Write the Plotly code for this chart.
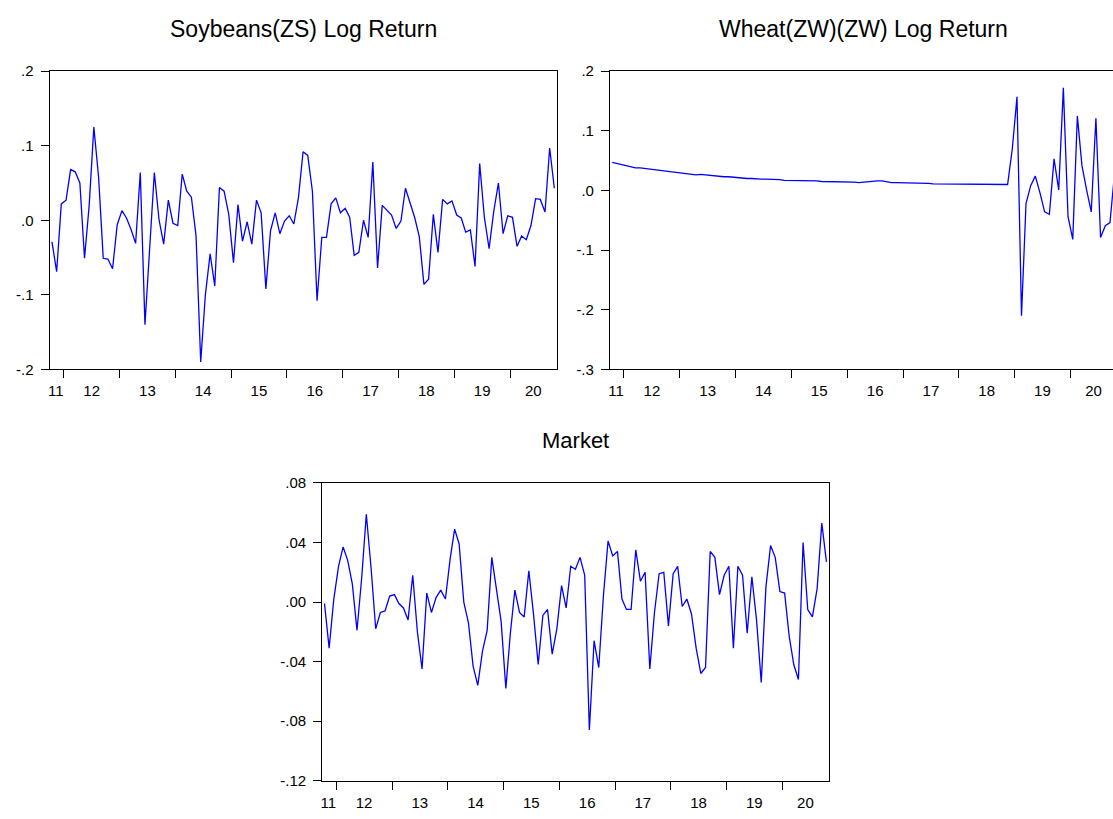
import pandas as pd
import plotly.graph_objects as go

# ---- monthly log returns, 2011M10 .. 2020M10 ----
start_month = "2011-10-01"
n_months = 109

soybeans = [
    -0.029, -0.069, 0.022, 0.027, 0.068, 0.065, 0.050, -0.051, 0.020, 0.125,
    0.058, -0.051, -0.052, -0.065, -0.006, 0.013, 0.003, -0.012, -0.031, 0.064,
    -0.140, -0.035, 0.064, 0.001, -0.032, 0.027, -0.004, -0.007, 0.062, 0.039,
    0.031, -0.021, -0.190, -0.100, -0.045, -0.088, 0.044, 0.039, 0.008, -0.057,
    0.021, -0.028, -0.002, -0.032, 0.027, 0.010, -0.092, -0.014, 0.010, -0.018,
    -0.001, 0.006, -0.005, 0.030, 0.092, 0.087, 0.039, -0.108, -0.023, -0.023,
    0.022, 0.030, 0.010, 0.016, 0.004, -0.047, -0.043, 0.000, -0.023, 0.078,
    -0.064, 0.020, 0.014, 0.007, -0.011, -0.001, 0.043, 0.023, 0.004, -0.022,
    -0.086, -0.079, 0.008, -0.043, 0.028, 0.022, 0.026, 0.007, 0.003, -0.016,
    -0.013, -0.062, 0.076, 0.004, -0.038, 0.012, 0.050, -0.018, 0.006, 0.004,
    -0.035, -0.021, -0.026, -0.007, 0.029, 0.028, 0.011, 0.097, 0.043,
]

wheat = [
    0.047, 0.045, 0.043, 0.041, 0.039, 0.038, 0.038, 0.037, 0.036, 0.035,
    0.034, 0.034, 0.033, 0.031, 0.030, 0.030, 0.029, 0.028, 0.026, 0.027,
    0.026, 0.025, 0.025, 0.024, 0.023, 0.023, 0.022, 0.021, 0.020, 0.020,
    0.020, 0.019, 0.019, 0.019, 0.019, 0.018, 0.018, 0.017, 0.017, 0.016,
    0.017, 0.017, 0.016, 0.016, 0.016, 0.015, 0.015, 0.015, 0.015, 0.014,
    0.014, 0.014, 0.014, 0.013, 0.014, 0.014, 0.015, 0.016, 0.016, 0.014,
    0.013, 0.013, 0.013, 0.012, 0.012, 0.012, 0.012, 0.012, 0.012, 0.011,
    0.011, 0.011, 0.011, 0.011, 0.011, 0.010, 0.010, 0.010, 0.010, 0.010,
    0.010, 0.010, 0.010, 0.010, 0.010, 0.010, 0.069, 0.157, -0.210, -0.022,
    0.008, 0.024, -0.004, -0.036, -0.040, 0.053, 0.001, 0.172, -0.044, -0.082,
    0.125, 0.042, 0.001, -0.036, 0.121, -0.079, -0.059, -0.054, 0.030,
]

market = [
    -0.001, -0.031, 0.002, 0.024, 0.037, 0.028, 0.012, -0.019, 0.016, 0.059,
    0.023, -0.018, -0.007, -0.006, 0.004, 0.005, -0.001, -0.004, -0.012, 0.018,
    -0.020, -0.045, 0.006, -0.007, 0.003, 0.008, 0.002, 0.029, 0.049, 0.039,
    0.000, -0.014, -0.043, -0.056, -0.033, -0.019, 0.030, 0.010, -0.013, -0.058,
    -0.021, 0.008, -0.007, -0.010, 0.021, -0.008, -0.042, -0.009, -0.005, -0.035,
    -0.018, 0.011, -0.004, 0.024, 0.022, 0.030, 0.018, -0.086, -0.026, -0.044,
    0.004, 0.041, 0.031, 0.034, 0.002, -0.005, -0.005, 0.035, 0.014, 0.020,
    -0.045, -0.007, 0.019, 0.020, -0.016, 0.019, 0.024, -0.003, 0.002, -0.008,
    -0.031, -0.048, -0.044, 0.034, 0.030, 0.005, 0.018, 0.024, -0.031, 0.024,
    0.018, -0.021, 0.017, -0.012, -0.054, 0.010, 0.038, 0.030, 0.007, 0.006,
    -0.023, -0.042, -0.052, 0.040, -0.005, -0.010, 0.009, 0.053, 0.027,
]

# ---- axis labels ----
year_labels = ["11", "12", "13", "14", "15", "16", "17", "18", "19", "20"]
year_label_dates = ["2011-11-10", "2012-07-02", "2013-07-02", "2014-07-02",
                    "2015-07-02", "2016-07-02", "2017-07-02", "2018-07-02",
                    "2019-07-02", "2020-06-01"]
year_boundaries = [f"{y}-01-01" for y in range(2012, 2021)]

soy_ticks = [0.2, 0.1, 0.0, -0.1, -0.2]
soy_text = [".2", ".1", ".0", "-.1", "-.2"]
wheat_ticks = [0.2, 0.1, 0.0, -0.1, -0.2, -0.3]
wheat_text = [".2", ".1", ".0", "-.1", "-.2", "-.3"]
mkt_ticks = [0.08, 0.04, 0.0, -0.04, -0.08, -0.12]
mkt_text = [".08", ".04", ".00", "-.04", "-.08", "-.12"]

titles = ["Soybeans(ZS) Log Return", "Wheat(ZW)(ZW) Log Return", "Market"]

# ---- dates: each observation sits in the middle of its month ----
month_starts = pd.date_range(start_month, periods=n_months + 1, freq="MS")
mid_month = month_starts[:-1] + (month_starts[1:] - month_starts[:-1]) / 2
t0, t1 = month_starts[0], month_starts[-1]

W, H = 1113, 819
FONT = "Liberation Sans, Arial, Helvetica, sans-serif"
LINE = "#0000FF"


def px_x(a, b):
    return [a / W, min(b / W, 1.0)]


def px_y(top, bottom):
    return [1 - bottom / H, 1 - top / H]


# the wheat panel runs past the right edge of the page
wheat_left, panel_w = 609.0, 508.0
wheat_visible = (W - wheat_left) / panel_w
wheat_end = t0 + (t1 - t0) * wheat_visible


def xaxis(domain, anchor, end):
    return dict(
        domain=domain, anchor=anchor, type="date",
        range=[t0.strftime("%Y-%m-%d %H:%M"), pd.Timestamp(end).strftime("%Y-%m-%d %H:%M")],
        tickmode="array", tickvals=year_label_dates, ticktext=year_labels,
        ticks="outside", ticklen=8, tickcolor="rgba(0,0,0,0)",
        minor=dict(tickmode="array", tickvals=year_boundaries, ticks="outside",
                   ticklen=8, tickwidth=1, tickcolor="black", showgrid=False),
        showline=True, linecolor="black", linewidth=1, mirror=True,
        showgrid=False, zeroline=False,
        tickfont=dict(family=FONT, size=15, color="black"),
    )


def yaxis(domain, anchor, rng, vals, text, mirror=True):
    return dict(
        domain=domain, anchor=anchor, range=rng,
        tickmode="array", tickvals=vals, ticktext=text,
        ticks="outside", ticklen=8, tickwidth=1, tickcolor="black",
        ticklabelstandoff=4,
        showline=True, linecolor="black", linewidth=1, mirror=mirror,
        showgrid=False, zeroline=False,
        tickfont=dict(family=FONT, size=15, color="black"),
    )


fig = go.Figure()
fig.add_trace(go.Scatter(x=mid_month, y=soybeans, mode="lines",
                         line=dict(color=LINE, width=1.3), xaxis="x", yaxis="y"))
fig.add_trace(go.Scatter(x=mid_month, y=wheat, mode="lines",
                         line=dict(color=LINE, width=1.3), xaxis="x2", yaxis="y2"))
fig.add_trace(go.Scatter(x=mid_month, y=market, mode="lines",
                         line=dict(color=LINE, width=1.3), xaxis="x3", yaxis="y3"))

top_row = px_y(63.5, 368.0)
bottom_row = px_y(484.0, 788.0)

fig.update_layout(
    width=W, height=H,
    margin=dict(l=0, r=0, t=0, b=0),
    paper_bgcolor="white", plot_bgcolor="white",
    showlegend=False,
    xaxis=xaxis(px_x(47.7, 555.7), "y", t1),
    yaxis=yaxis(top_row, "x", [-0.2, 0.2], soy_ticks, soy_text),
    xaxis2=xaxis(px_x(wheat_left, W), "y2", wheat_end),
    yaxis2=yaxis(top_row, "x2", [-0.3, 0.2], wheat_ticks, wheat_text, mirror=False),
    xaxis3=xaxis(px_x(320.7, 828.3), "y3", t1),
    yaxis3=yaxis(bottom_row, "x3", [-0.12, 0.08], mkt_ticks, mkt_text),
)

title_pos = [(301.7, 20.0, 23), (863.0, 20.0, 23), (574.5, 441.0, 22)]
for text, (cx, cy, size) in zip(titles, title_pos):
    fig.add_annotation(text=text, x=cx / W, y=1 - cy / H, xref="paper", yref="paper",
                       xanchor="center", yanchor="middle", showarrow=False,
                       font=dict(family=FONT, size=size, color="black"))

fig.write_html("out.html")
